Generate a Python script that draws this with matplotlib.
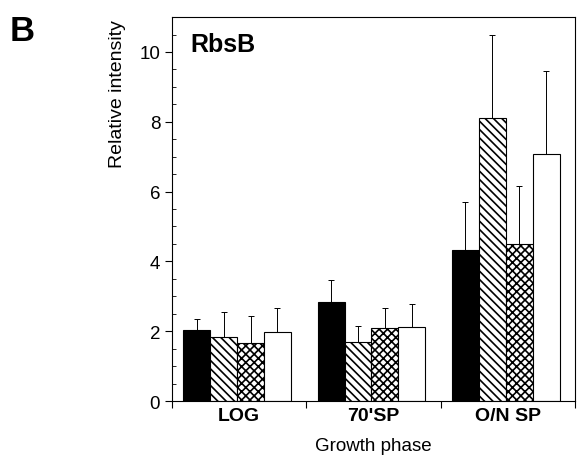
import numpy as np
import matplotlib.pyplot as plt

plt.rcParams['font.family'] = ['Liberation Sans', 'DejaVu Sans']
plt.rcParams['hatch.linewidth'] = 1.2

phases = ['LOG', "70'SP", 'O/N SP']
s1 = [2.03, 2.83, 4.34]
s1_err = [0.31, 0.65, 1.37]
s2 = [1.83, 1.69, 8.11]
s2_err = [0.71, 0.46, 2.39]
s3 = [1.65, 2.09, 4.49]
s3_err = [0.78, 0.57, 1.68]
s4 = [1.97, 2.11, 7.08]
s4_err = [0.69, 0.66, 2.37]

series = [s1, s2, s3, s4]
errors = [s1_err, s2_err, s3_err, s4_err]
faces = ['black', 'white', 'white', 'white']
hatches = [None, '\\\\\\\\', 'xxxx', None]

fig = plt.figure(figsize=(5.77, 4.56), dpi=100)
ax = fig.add_axes([0.298, 0.1184, 0.6985, 0.842])

x = np.arange(len(phases))
w = 0.2
for i, (vals, err) in enumerate(zip(series, errors)):
    pos = x + 0.085 + i * w
    ax.bar(pos, vals, width=w, align='edge', color=faces[i], edgecolor='black',
           hatch=hatches[i], linewidth=0.8, zorder=2)
    ax.errorbar(pos + w / 2, vals, yerr=[np.zeros(len(vals)), err], fmt='none',
                ecolor='black', elinewidth=0.7, capsize=2.5, capthick=0.7, zorder=1)

ax.set_xlim(0, 3)
ax.set_ylim(0, 11)
ax.set_xticks([0, 1, 2, 3])
ax.set_xticklabels([])
ax.set_xticks(x + 0.5, minor=True)
ax.set_xticklabels(phases, minor=True, fontweight='bold', fontsize=14)
ax.tick_params(axis='x', which='major', direction='out', length=5, width=0.8)
ax.tick_params(axis='x', which='minor', length=0, pad=4)
ax.set_yticks([0, 2, 4, 6, 8, 10])
ax.set_yticks(np.arange(0, 11, 0.5), minor=True)
ax.tick_params(axis='y', which='major', direction='out', length=5, width=0.8, labelsize=13.5)
ax.tick_params(axis='y', which='minor', direction='in', length=3, width=0.6)
for sp in ax.spines.values():
    sp.set_linewidth(0.8)

ax.set_xlabel('Growth phase', fontsize=13.5, labelpad=9.5)
fig.text(0.203, 0.794, 'Relative intensity', rotation=90, fontsize=14, ha='center', va='center')
ax.text(0.045, 0.93, 'RbsB', transform=ax.transAxes, fontsize=18, fontweight='bold',
        ha='left', va='center')
fig.text(0.016, 0.931, 'B', fontsize=25, fontweight='bold', ha='left', va='center')

fig.savefig('out.png', dpi=100)
